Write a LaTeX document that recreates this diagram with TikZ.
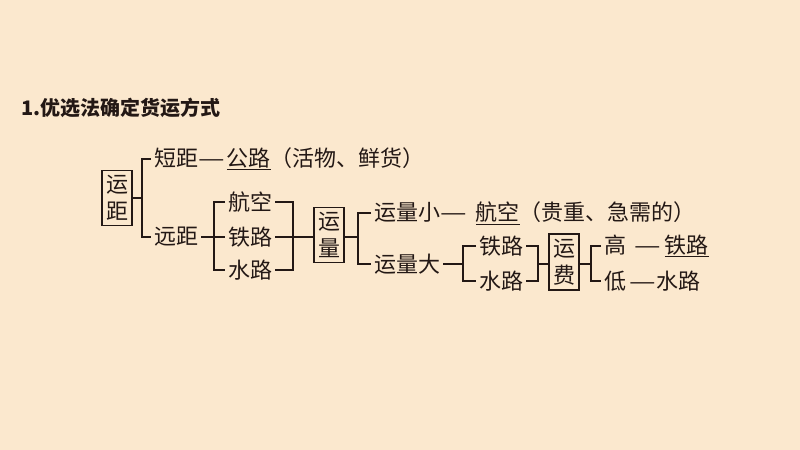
\documentclass[tikz,border=0pt]{standalone}
\usepackage{fontspec}
\usepackage{graphicx}
\setmainfont{Noto Sans CJK SC}
\usetikzlibrary{positioning,calc}
\definecolor{bgpeach}{RGB}{251,232,206}
\definecolor{inkbrown}{RGB}{35,24,21}
\newcommand\longdash{\scalebox{1.35}[1]{—}}
\tikzset{
  txt/.style={anchor=west, inner xsep=3bp, inner ysep=0pt, text=inkbrown,
    font=\fontsize{22bp}{24bp}\selectfont},
  vbox/.style={draw=inkbrown, line width=1.3bp, align=center, inner xsep=4bp,
    inner ysep=5bp, text=inkbrown, font=\fontsize{22bp}{27bp}\selectfont},
  brk/.style={draw=inkbrown, line width=1.4bp},
}

\begin{document}
\begin{tikzpicture}[x=1bp, y=-1bp]
    \fill[bgpeach] (0,0) rectangle (800,450);
    \useasboundingbox (0,0) rectangle (800,450);
    \node[txt, inner xsep=0pt, font=\fontsize{20bp}{22bp}\selectfont\bfseries] (title) at (21,108) {1.优选法确定货运方式};
    % first split
    \node[vbox] (yunju) at (117,198) {运\\距};
    \node[txt] (duanju) at (151,159) {短距\longdash{}\hspace{2bp}\underline{公路}（活物、鲜货）};
    \node[txt] (yuanju) at (151,237) {远距};
    \coordinate (k1) at (142,198);
    \draw[brk] (yunju.east) -- (k1);
    \draw[brk] (duanju.west) -| (k1) |- (yuanju.west);
    % long distance
    \node[txt] (hangkong) at (225,202) {航空};
    \node[txt] (tielua) at (225,237) {铁路};
    \node[txt] (shuilua) at (225,270) {水路};
    \coordinate (k2) at (214,237);
    \draw[brk] (yuanju.east) -- (k2) -- (tielua.west);
    \draw[brk] (hangkong.west) -| (k2) |- (shuilua.west);
    \node[vbox] (yunliang) at (329,235) {运\\量};
    \coordinate (k3) at (293,237);
    \draw[brk] (hangkong.east) -| (k3) |- (shuilua.east);
    \draw[brk] (tielua.east) -- (k3) -- (yunliang.west |- k3);
    % volume
    \node[txt] (xiao) at (371,213) {运量小\longdash{}\hspace{9bp}\underline{航空}（贵重、急需的）};
    \node[txt] (da) at (371,264) {运量大};
    \coordinate (k4) at (358,237);
    \draw[brk] (yunliang.east |- k4) -- (k4);
    \draw[brk] (xiao.west) -| (k4) |- (da.west);
    \node[txt] (tielub) at (476,246) {铁路};
    \node[txt] (shuilub) at (476,281) {水路};
    \coordinate (k5) at (463,264);
    \draw[brk] (da.east) -- (k5);
    \draw[brk] (tielub.west) -| (k5) |- (shuilub.west);
    % cost
    \node[vbox] (yunfei) at (564,262) {运\\费};
    \coordinate (k6) at (538,264);
    \draw[brk] (tielub.east) -| (k6) |- (shuilub.east);
    \draw[brk] (k6) -- (yunfei.west |- k6);
    \node[txt] (gao) at (601,246) {高\hspace{8bp}\longdash{}\hspace{4bp}\underline{铁路}};
    \node[txt] (di) at (601,281) {低\hspace{3bp}\longdash{}\hspace{1bp}水路};
    \coordinate (k7) at (591,264);
    \draw[brk] (yunfei.east |- k7) -- (k7);
    \draw[brk] (gao.west) -| (k7) |- (di.west);
\end{tikzpicture}
\end{document}
